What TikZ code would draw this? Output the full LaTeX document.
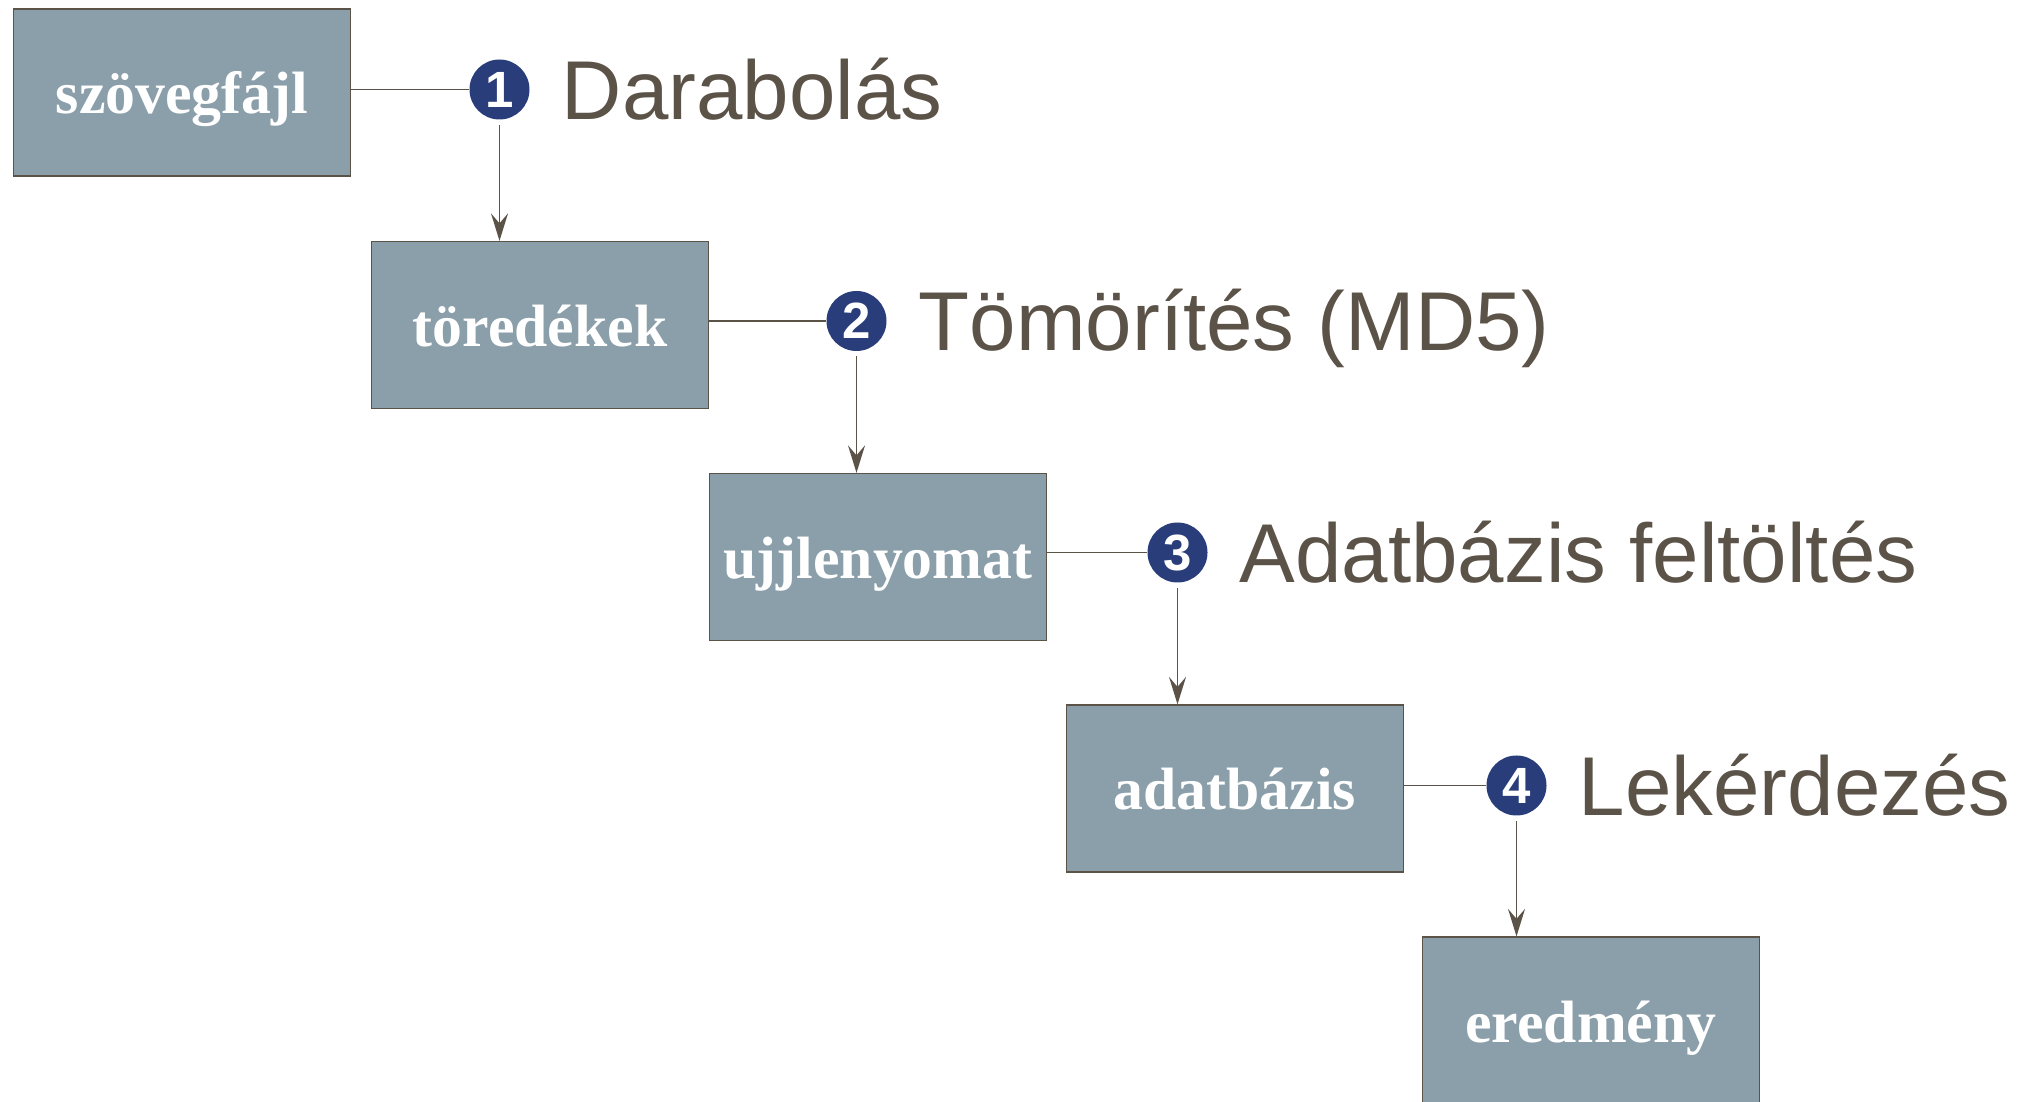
\documentclass[tikz,border=0pt]{standalone}
\usepackage{fontspec}
\setmainfont{Liberation Serif}
\setsansfont{Liberation Sans}
\usetikzlibrary{arrows.meta}

\definecolor{boxgray}{HTML}{8B9FAA}
\definecolor{darktext}{HTML}{5B5248}
\definecolor{stepblue}{HTML}{293D7A}

\begin{document}
\begin{tikzpicture}[
        box/.style={draw=darktext, line width=0.7pt, fill=boxgray, inner sep=0pt,
            minimum width=6.74cm, minimum height=3.34cm, text=white,
            text height=0.86cm, text depth=0pt,
            font=\fontsize{34}{36}\selectfont\bfseries},
        num/.style={circle, fill=stepblue, minimum size=1.2cm, inner sep=0pt, text=white,
            font=\sffamily\bfseries\fontsize{29}{31}\selectfont},
        steplabel/.style={anchor=base west, inner sep=0pt, text=darktext,
            font=\sffamily\fontsize{47.5}{50}\selectfont},
        conn/.style={draw=darktext, line width=1pt},
        arr/.style={conn, -{Stealth[length=5.5mm,width=3.4mm,inset=2mm]}, shorten <=1mm}
    ]

        \useasboundingbox (0,0) rectangle (40.58,22.02);

        % data boxes
        \node[box] (szoveg) at (3.64,20.17) {szövegfájl};
        \node[box] (toredek) at (10.80,15.52) {töredékek};
        \node[box] (ujj) at (17.56,10.88) {ujjlenyomat};
        \node[box] (adatb) at (24.70,6.25) {adatbázis};
        \node[box] (eredm) at (31.82,1.61) {eredmény};

        % steps
        \node[num] (n1) at (9.99,20.23) {1};
        \node[num] (n2) at (17.13,15.60) {2};
        \node[num] (n3) at (23.55,10.97) {3};
        \node[num] (n4) at (30.33,6.31) {4};

        \node[steplabel] (l1) at ([xshift=1.24cm,yshift=-0.60cm]n1.center) {Darabolás};
        \node[steplabel] (l2) at ([xshift=1.24cm,yshift=-0.60cm]n2.center) {Tömörítés (MD5)};
        \node[steplabel] (l3) at ([xshift=1.24cm,yshift=-0.60cm]n3.center) {Adatbázis feltöltés};
        \node[steplabel] (l4) at ([xshift=1.24cm,yshift=-0.60cm]n4.center) {Lekérdezés};

        % connectors
        \draw[conn] (szoveg.east |- n1) -- (n1);
        \draw[arr] (n1) -- (n1 |- toredek.north);
        \draw[conn] (toredek.east |- n2) -- (n2);
        \draw[arr] (n2) -- (n2 |- ujj.north);
        \draw[conn] (ujj.east |- n3) -- (n3);
        \draw[arr] (n3) -- (n3 |- adatb.north);
        \draw[conn] (adatb.east |- n4) -- (n4);
        \draw[arr] (n4) -- (n4 |- eredm.north);

    \end{tikzpicture}
\end{document}
